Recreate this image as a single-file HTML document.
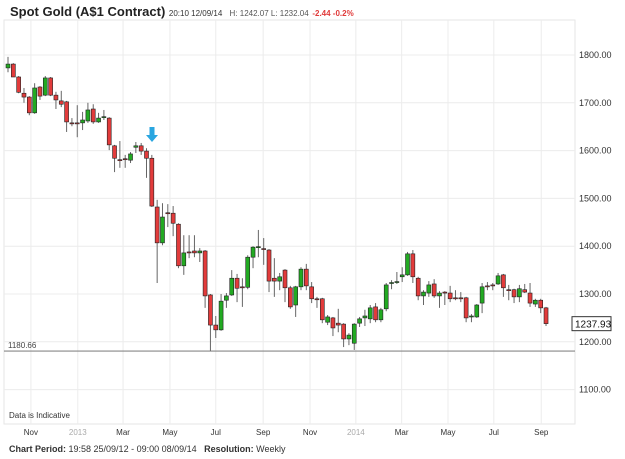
<!DOCTYPE html>
<html><head><meta charset="utf-8">
<style>
body{margin:0;background:#fff;width:625px;height:459px;overflow:hidden;font-family:"Liberation Sans",sans-serif}
#title{position:absolute;left:10px;top:4px;font-size:13px;font-weight:bold;color:#222;white-space:nowrap}
#title span{font-weight:normal;font-size:8px;color:#555}
#foot{position:absolute;left:9px;top:444px;font-size:9px;color:#333;white-space:nowrap}
svg{position:absolute;left:0;top:0}
</style></head><body>
<div id="title">Spot Gold (A$1 Contract) <span style="color:#333">20:10 12/09/14</span> &nbsp;<span>H: 1242.07 L: 1232.04</span> <span style="color:#e03a3a;font-weight:bold">-2.44 -0.2%</span></div>
<svg id="chart" width="625" height="459"></svg>
<div id="foot"><b>Chart Period:</b> 19:58 25/09/12 - 09:00 08/09/14 &nbsp;&nbsp;<b>Resolution:</b> Weekly</div>
<script>
const opens=[1773,1781,1754,1720,1712,1679,1733,1716,1752,1716,1704,1702,1658,1658,1658,1662,1687,1660,1670,1668,1610,1581,1583,1580,1607,1610,1599,1584,1482,1407,1470,1469,1446,1359,1388,1390,1386,1390,1298,1235,1225,1287,1298,1333,1315,1314,1377,1398,1395,1392,1333,1327,1350,1313,1277,1315,1352,1315,1290,1290,1241,1250,1239,1237,1206,1197,1239,1250,1248,1273,1246,1269,1323,1325,1336,1340,1384,1333,1296,1302,1321,1296,1304,1302,1292,1292,1292,1252,1252,1281,1317,1319,1321,1340,1309,1309,1294,1309,1302,1279,1287,1271];
const highs=[1796,1783,1756,1731,1714,1741,1735,1756,1754,1723,1725,1704,1668,1695,1681,1700,1697,1679,1685,1670,1612,1620,1591,1597,1618,1616,1605,1591,1497,1490,1488,1484,1448,1423,1423,1423,1396,1392,1300,1254,1300,1302,1350,1342,1333,1381,1400,1434,1417,1394,1375,1344,1352,1317,1317,1356,1363,1325,1294,1292,1256,1252,1269,1239,1218,1239,1252,1267,1277,1281,1271,1323,1329,1346,1356,1388,1392,1336,1308,1327,1331,1306,1306,1317,1308,1304,1294,1258,1279,1323,1325,1323,1344,1342,1319,1311,1319,1321,1323,1290,1290,1273];
const lows=[1764,1754,1720,1700,1674,1677,1706,1714,1714,1687,1691,1639,1651,1628,1643,1658,1656,1658,1664,1601,1555,1564,1564,1574,1595,1591,1543,1482,1323,1402,1440,1421,1354,1340,1375,1377,1367,1271,1181,1208,1223,1271,1296,1283,1273,1310,1354,1377,1361,1304,1294,1308,1283,1269,1252,1308,1308,1281,1271,1239,1235,1212,1220,1189,1193,1183,1231,1233,1239,1241,1241,1264,1310,1321,1325,1338,1323,1287,1277,1294,1292,1271,1277,1283,1287,1283,1241,1241,1250,1260,1308,1308,1319,1294,1287,1281,1283,1302,1273,1273,1260,1233];
const closes=[1781,1754,1722,1712,1679,1731,1714,1752,1716,1706,1697,1660,1657,1657,1664,1685,1660,1668,1671,1612,1584,1580,1582,1593,1610,1599,1584,1484,1407,1461,1469,1448,1359,1386,1387,1386,1390,1296,1235,1225,1285,1296,1333,1312,1314,1377,1398,1399,1394,1327,1327,1336,1313,1273,1315,1352,1317,1290,1289,1246,1252,1229,1235,1206,1214,1237,1248,1254,1271,1246,1267,1319,1324,1326,1340,1384,1336,1296,1304,1319,1296,1302,1302,1290,1291,1291,1250,1254,1277,1315,1316,1318,1338,1313,1308,1294,1311,1304,1281,1287,1271,1238];
const yTicks=[1100,1200,1300,1400,1500,1600,1700,1800];
const xTickIdx=[4.3,13.1,21.6,30.4,39.0,47.9,56.7,65.3,73.9,82.6,91.2,100.1];
const xTickLabels=["Nov","2013","Mar","May","Jul","Sep","Nov","2014","Mar","May","Jul","Sep"];
const lowLine=1180.66;
const lastPrice=1237.93;

const svg=document.getElementById('chart');
const NS='http://www.w3.org/2000/svg';
const L=4,R=575,T=20,B=424;
function y(p){return 55+(1800-p)*0.478;}
function x(i){return 8+i*5.327;}
function mk(tag,attrs,parent){const e=document.createElementNS(NS,tag);for(const k in attrs)e.setAttribute(k,attrs[k]);(parent||svg).appendChild(e);return e;}

const frame=mk('rect',{x:L,y:T,width:R-L,height:B-T,fill:'#fff',stroke:'#e6e6e6'});



yTicks.forEach(v=>{
  const g=mk('line',{x1:L,x2:R,y1:y(v),y2:y(v),stroke:'#ececec'});
  
  
  const t=mk('text',{x:579,y:y(v)+3,'font-size':9,fill:'#333','font-family':'Liberation Sans, sans-serif'});
  t.textContent=v.toFixed(2);
  
  
});
xTickIdx.forEach((v,k)=>{
  const g=mk('line',{x1:x(v),x2:x(v),y1:T,y2:B,stroke:'#ececec'});
  
  
  const isYear=xTickLabels[k].length===4;
  const t=mk('text',{x:x(v),y:435,'font-size':8,'text-anchor':'middle',fill:isYear?'#aaa':'#333','font-family':'Liberation Sans, sans-serif'});
  t.textContent=xTickLabels[k];
  
  
});

const ll=mk('line',{x1:L,x2:R,y1:y(lowLine),y2:y(lowLine),stroke:'#888','stroke-width':1.2});


const llt=mk('text',{x:8,y:y(lowLine)-3,'font-size':8,fill:'#444','font-family':'Liberation Sans, sans-serif'});
llt.textContent=lowLine.toFixed(2);



opens.forEach((o,i)=>{
  const c=closes[i],cx=x(i);
  const up=c>=o;
  const w=mk('line',{x1:cx,x2:cx,y1:y(highs[i]),y2:y(lows[i]),stroke:'#666','stroke-width':1});
  
  
  const top=y(Math.max(o,c)),bot=y(Math.min(o,c));
  const b=mk('rect',{x:cx-2,y:top,width:4,height:Math.max(1,bot-top),fill:up?'#22aa22':'#e23b3b',stroke:'#222','stroke-width':0.6});
  
  
});

const arr=mk('path',{d:'M149.5 127 h5 v8 h3.5 l-6 7 l-6 -7 h3.5 z',fill:'#2aa6e0'});



const lb=mk('rect',{x:572,y:y(lastPrice)-7,width:39,height:14,fill:'#fff',stroke:'#333'});


const lt=mk('text',{x:575,y:y(lastPrice)+4,'font-size':10,fill:'#111','font-family':'Liberation Sans, sans-serif'});
lt.textContent=lastPrice.toFixed(2);



const di=mk('text',{x:9,y:418,'font-size':8,fill:'#333','font-family':'Liberation Sans, sans-serif'});
di.textContent='Data is Indicative';


</script>
</body></html>
